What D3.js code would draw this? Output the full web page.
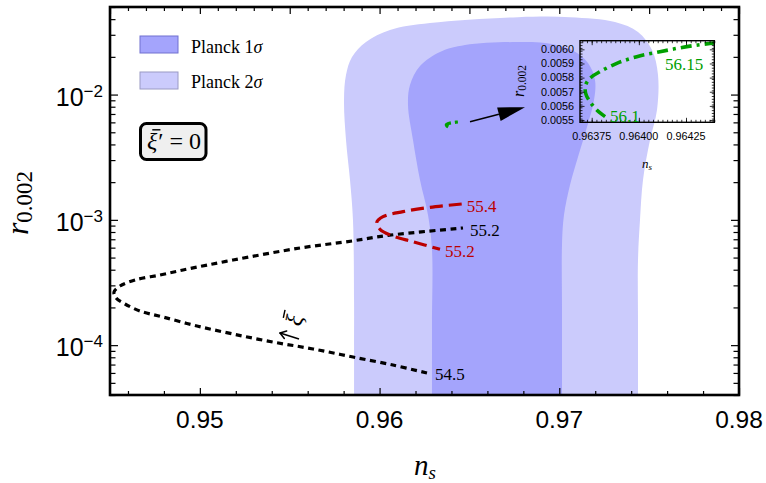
<!DOCTYPE html>
<html><head><meta charset="utf-8">
<script src="https://cdn.jsdelivr.net/npm/d3@7"></script>
<style>body{margin:0;background:#fff} svg{display:block}</style>
</head><body>
<svg id="c" width="766" height="483"></svg>
<script>
// ---------------- data ----------------
const nsDomain = [0.945, 0.98];
const rDomain = [4e-5, 0.05];
const xMajorTicks = [0.95, 0.96, 0.97, 0.98];
const yMajorTicks = [1e-4, 1e-3, 1e-2];
const yTickLabels = ["10", "10", "10"];
const yTickExponents = ["\u22124", "\u22123", "\u22122"];

// Planck contours [n_s, r] (open outline, closed along the bottom below the axis)
const planck2Sigma = [[0.95858,2e-5],[0.95858,5e-5],[0.95858,1e-4],[0.95858,2.29e-4],[0.95852,9.97e-4],[0.958355,2.08e-3],[0.958132,4.34e-3],[0.958021,9.05e-3],[0.958132,0.01433],[0.958466,0.01995],[0.959245,0.02628],[0.96058,0.03277],[0.962806,0.03725],[0.9677,0.0415],[0.9706,0.0415],[0.9731,0.03795],[0.97438,0.03158],[0.975159,0.02268],[0.975493,0.01433],[0.975437,7.53e-3],[0.975048,4.34e-3],[0.974658,2.08e-3],[0.974491,9.97e-4],[0.97438,4.78e-4],[0.97438,1.5e-4],[0.97438,6e-5],[0.97438,2e-5]];
const planck1Sigma = [[0.962917,2e-5],[0.962917,6e-5],[0.962917,1.5e-4],[0.962917,5.75e-4],[0.962695,1.094e-3],[0.96225,2.08e-3],[0.96186,4.34e-3],[0.961582,8.25e-3],[0.961693,0.01192],[0.96225,0.0169],[0.963363,0.02187],[0.964754,0.02486],[0.9677,0.02628],[0.969205,0.02579],[0.970708,0.02268],[0.971598,0.01786],[0.971987,0.01307],[0.971932,9.05e-3],[0.971542,5.51e-3],[0.971041,3.175e-3],[0.970596,1.897e-3],[0.970262,1.094e-3],[0.970151,6.30e-4],[0.970151,2e-4],[0.970151,6e-5],[0.970151,2e-5]];

// black dotted curve (from 54.5 end to 55.2 end)
const blackNs = [0.962639,0.960747,0.958521,0.956296,0.95407,0.951844,0.949841,0.947949,0.946669,0.945835,0.945334,0.945223,0.945556,0.946391,0.947782,0.949062,0.951844,0.955572,0.958522,0.960413,0.964642];
const blackR  = [5.99e-5,6.94e-5,8.04e-5,9.32e-5,1.059e-4,1.227e-4,1.422e-4,1.677e-4,1.873e-4,2.13e-4,2.378e-4,2.655e-4,2.965e-4,3.311e-4,3.63e-4,3.98e-4,4.78e-4,5.96e-4,6.8e-4,7.5e-4,8.61e-4];

// red dashed curve (from 55.4 end to 55.2 end)
const redNs = [0.96457,0.962806,0.961304,0.960191,0.95984,0.960024,0.960747,0.96186,0.963363];
const redR  = [1.338e-3,1.259e-3,1.162e-3,1.06e-3,9.49e-4,8.41e-4,7.43e-4,6.69e-4,5.82e-4];

// green dash-dot curve (from 56.1 end to 56.15 end)
const greenNs = [0.963821,0.963777,0.963741,0.963718,0.963718,0.963741,0.963794,0.963883,0.963989,0.964112,0.964254,0.964386,0.96448];
const greenR  = [0.005524,0.005571,0.00563,0.005689,0.005748,0.005795,0.005842,0.005901,0.005948,0.005983,0.006019,0.006043,0.006058];

// inset
const insetNsDomain = [0.963688, 0.9644];
const insetRDomain = [0.005484, 0.006061];
const insetXTicks = [0.96375, 0.964, 0.96425];
const insetXTickLabels = ["0.96375", "0.96400", "0.96425"];
const insetYTicks = [0.0055, 0.0056, 0.0057, 0.0058, 0.0059, 0.006];
const insetYTickLabels = ["0.0055", "0.0056", "0.0057", "0.0058", "0.0059", "0.0060"];

// annotation arrow (n_s, r) from -> to
const arrowFrom = [0.965032, 6.07e-3];
const arrowTo = [0.968092, 7.91e-3];
const label5615 = [0.964139, 0.005854];

// ---------------- drawing ----------------
const svg = d3.select("#c");
const L = 110, R = 739, T = 7, B = 395;
const x = d3.scaleLinear().domain(nsDomain).range([L, R]);
const y = d3.scaleLog().domain(rDomain).range([B, T]);

const defs = svg.append("defs");
defs.append("clipPath").attr("id","clipMain").append("rect")
  .attr("x",L).attr("y",T).attr("width",R-L).attr("height",B-T);

const serif = "'Liberation Serif','Times New Roman',serif";
const sans = "'Liberation Sans',Arial,sans-serif";

const gMain = svg.append("g").attr("clip-path","url(#clipMain)");
const outline = d3.line().x(d=>x(d[0])).y(d=>y(d[1])).curve(d3.curveCatmullRom.alpha(0.5));
gMain.append("path").attr("d", outline(planck2Sigma)+"Z").attr("fill","#cbcbfc");
gMain.append("path").attr("d", outline(planck1Sigma)+"Z").attr("fill","#a4a4fc");

const line = d3.line().x(d=>x(d[0])).y(d=>y(d[1])).curve(d3.curveCatmullRom.alpha(0.5));
const zip = (a,b)=>a.map((v,i)=>[v,b[i]]);
const blackPts = zip(blackNs, blackR), redPts = zip(redNs, redR), greenPts = zip(greenNs, greenR);

gMain.append("path").attr("d", line(blackPts)).attr("fill","none")
  .attr("stroke","#000").attr("stroke-width",3.2).attr("stroke-dasharray","6,4.5");
gMain.append("path").attr("d", line(redPts)).attr("fill","none")
  .attr("stroke","#bb0000").attr("stroke-width",3.2).attr("stroke-dasharray","13,6");
gMain.append("path").attr("d", line(greenPts)).attr("fill","none")
  .attr("stroke","#00a000").attr("stroke-width",3.2).attr("stroke-dasharray","8,4,3,4");

// curve labels
function lab(pt, dx, dy, txt, col){
  svg.append("text").attr("x", x(pt[0])+dx).attr("y", y(pt[1])+dy)
    .attr("font-family", serif).attr("font-size", 17).attr("fill", col).text(txt);
}
lab(redPts[0], 5, 8, "55.4", "#bb0000");
lab(redPts[redPts.length-1], 5, 8, "55.2", "#bb0000");
lab(blackPts[blackPts.length-1], 7, 8, "55.2", "#000");
lab(blackPts[0], 8, 7, "54.5", "#000");

// xi with an overbar, drawn at origin of group g
function xiBar(g, fs){
  const t = g.append("text").attr("x",0).attr("y",0).attr("font-family",serif)
    .attr("font-style","italic").attr("font-size",fs).text("\u03BE");
  const w = t.node().getComputedTextLength();
  g.append("line").attr("x1", 0.22*fs).attr("x2", 0.22*fs + 0.34*fs)
    .attr("y1", -0.80*fs).attr("y2", -0.80*fs).attr("stroke","#000").attr("stroke-width", Math.max(1.2, fs*0.06));
  return w;
}

// xi-bar direction annotation
{
  const p = blackPts[4];
  const px = x(p[0]), py = y(p[1]);
  const g = svg.append("g");
  const gx = g.append("g").attr("transform", `translate(${px+28},${py-15}) rotate(-78)`);
  xiBar(gx, 24);
  const ax0 = px+26, ay0 = py-3, ax1 = px+7, ay1 = py-9;
  g.append("line").attr("x1",ax0).attr("y1",ay0).attr("x2",ax1).attr("y2",ay1)
    .attr("stroke","#000").attr("stroke-width",1.5);
  const ang = Math.atan2(ay1-ay0, ax1-ax0);
  const hl = 7;
  [0.6,-0.6].forEach(s=>{
    g.append("line").attr("x1",ax1).attr("y1",ay1)
      .attr("x2",ax1 - hl*Math.cos(ang+s)).attr("y2",ay1 - hl*Math.sin(ang+s))
      .attr("stroke","#000").attr("stroke-width",1.5).attr("stroke-linecap","round");
  });
}

// arrow to inset
{
  const x0 = x(arrowFrom[0]), y0 = y(arrowFrom[1]), x1 = x(arrowTo[0]), y1 = y(arrowTo[1]);
  const ang = Math.atan2(y1-y0, x1-x0);
  const hl = 27, hw = 7;
  const bx = x1 - hl*Math.cos(ang), by = y1 - hl*Math.sin(ang);
  svg.append("line").attr("x1",x0).attr("y1",y0).attr("x2",bx).attr("y2",by)
    .attr("stroke","#000").attr("stroke-width",1.5);
  const pts = [[x1,y1],[bx - hw*Math.sin(ang), by + hw*Math.cos(ang)],[bx + hw*Math.sin(ang), by - hw*Math.cos(ang)]];
  svg.append("path").attr("d", "M"+pts.map(p=>p.join(",")).join("L")+"Z").attr("fill","#000");
}

// legend
svg.append("rect").attr("x",140).attr("y",36).attr("width",38).attr("height",17)
  .attr("fill","#a4a4fc").attr("stroke","#7070d0").attr("stroke-width",1);
svg.append("rect").attr("x",140).attr("y",72).attr("width",38).attr("height",17)
  .attr("fill","#cbcbfc").attr("stroke","#9a9ac4").attr("stroke-width",1);
[["1",52.5],["2",88]].forEach(([n,yy])=>{
  const t = svg.append("text").attr("x",191).attr("y",yy).attr("font-family",serif).attr("font-size",18);
  t.append("tspan").text("Planck "+n);
  t.append("tspan").attr("font-style","italic").text("\u03C3");
});

// xi' = 0 box
svg.append("rect").attr("x",140.5).attr("y",123.5).attr("width",65.5).attr("height",36).attr("rx",6)
  .attr("fill","#efefef").attr("stroke","#000").attr("stroke-width",3);
{
  const g = svg.append("g").attr("transform","translate(147,149)");
  const w = xiBar(g, 24);
  g.append("text").attr("x", w+1).attr("y",0).attr("font-family",serif).attr("font-size",24).text("\u2032 = 0");
}

// frame + ticks
const frame = svg.append("g");
function ticks(axisFn, scale, vals, size, tr){
  frame.append("g").attr("transform", tr)
    .call(axisFn(scale).tickValues(vals).tickSize(size).tickFormat(""))
    .call(g=>g.select(".domain").remove())
    .call(g=>g.selectAll("line").attr("stroke","#000").attr("stroke-width",1.2));
}
const xMinorBottom = d3.range(0.946, 0.9801, 0.002).filter(v=>!xMajorTicks.some(m=>Math.abs(m-v)<1e-6));
const xTop = d3.range(0.945, 0.9801, 0.001);
const xTopMajor = xTop.filter(v=>Math.abs(Math.round(v*200)-v*200)<1e-6);
const xTopMinor = xTop.filter(v=>!xTopMajor.includes(v));
ticks(d3.axisBottom, x, xMajorTicks, -7, `translate(0,${B})`);
ticks(d3.axisBottom, x, xMinorBottom, -4, `translate(0,${B})`);
ticks(d3.axisTop, x, xTopMajor, -7, `translate(0,${T})`);
ticks(d3.axisTop, x, xTopMinor, -4, `translate(0,${T})`);
const yMinor = [];
[-5,-4,-3,-2].forEach(e=>{ for(let k=2;k<=9;k++){ const v=k*Math.pow(10,e); if(v>=rDomain[0]*0.999 && v<=rDomain[1]*1.001) yMinor.push(v);} });
ticks(d3.axisLeft, y, yMajorTicks, -8, `translate(${L},0)`);
ticks(d3.axisLeft, y, yMinor, -5.5, `translate(${L},0)`);
ticks(d3.axisRight, y, yMajorTicks, -8, `translate(${R},0)`);
ticks(d3.axisRight, y, yMinor, -5.5, `translate(${R},0)`);
frame.append("rect").attr("x",L).attr("y",T).attr("width",R-L).attr("height",B-T)
  .attr("fill","none").attr("stroke","#000").attr("stroke-width",2.6);

// tick labels
xMajorTicks.forEach(v=>{
  svg.append("text").attr("x",x(v)).attr("y",428).attr("text-anchor","middle")
    .attr("font-family",sans).attr("font-size",24.5).text(d3.format(".2f")(v));
});
yMajorTicks.forEach((v,i)=>{
  const t = svg.append("text").attr("x",103).attr("y",y(v)+11).attr("text-anchor","end")
    .attr("font-family",sans).attr("font-size",25);
  t.append("tspan").text(yTickLabels[i]);
  t.append("tspan").attr("font-size",17).attr("dy",-9).text(yTickExponents[i]);
});

// axis titles
{
  const t = svg.append("text").attr("x",425).attr("y",475).attr("text-anchor","middle")
    .attr("font-family",serif).attr("font-size",29);
  t.append("tspan").attr("font-style","italic").text("n");
  t.append("tspan").attr("font-style","italic").attr("font-size",19).attr("dy",4).text("s");
}
{
  const t = svg.append("text").attr("transform","translate(28,203) rotate(-90)").attr("text-anchor","middle")
    .attr("font-family",serif).attr("font-size",32);
  t.append("tspan").attr("font-style","italic").text("r");
  t.append("tspan").attr("font-size",23).attr("dy",4).text("0.002");
}

// ---------------- inset ----------------
const IL = 580, IR = 714.3, IT = 40.7, IB = 122.3;
const xi = d3.scaleLinear().domain(insetNsDomain).range([IL, IR]);
const yi = d3.scaleLinear().domain(insetRDomain).range([IB, IT]);
defs.append("clipPath").attr("id","clipInset").append("rect")
  .attr("x",IL).attr("y",IT).attr("width",IR-IL).attr("height",IB-IT);
const lineI = d3.line().x(d=>xi(d[0])).y(d=>yi(d[1])).curve(d3.curveCatmullRom.alpha(0.5));
svg.append("g").attr("clip-path","url(#clipInset)").append("path").attr("d", lineI(greenPts))
  .attr("fill","none").attr("stroke","#00a000").attr("stroke-width",3.6).attr("stroke-dasharray","11,5,3,5");

const gi = svg.append("g");
function iticks(axisFn, scale, vals, size, tr){
  gi.append("g").attr("transform", tr)
    .call(axisFn(scale).tickValues(vals).tickSize(size).tickFormat(""))
    .call(g=>g.select(".domain").remove())
    .call(g=>g.selectAll("line").attr("stroke","#000").attr("stroke-width",0.8));
}
const ixMinor = d3.range(0.963700, 0.9644, 0.000025);
const iyMinor = d3.range(0.00549, 0.00606, 0.00002);
iticks(d3.axisBottom, xi, ixMinor, -2.5, `translate(0,${IB})`);
iticks(d3.axisTop, xi, ixMinor, -2.5, `translate(0,${IT})`);
iticks(d3.axisBottom, xi, insetXTicks, -4.5, `translate(0,${IB})`);
iticks(d3.axisTop, xi, insetXTicks, -4.5, `translate(0,${IT})`);
iticks(d3.axisLeft, yi, iyMinor, -2.5, `translate(${IL},0)`);
iticks(d3.axisRight, yi, iyMinor, -2.5, `translate(${IR},0)`);
iticks(d3.axisLeft, yi, insetYTicks, -4.5, `translate(${IL},0)`);
iticks(d3.axisRight, yi, insetYTicks, -4.5, `translate(${IR},0)`);
gi.append("rect").attr("x",IL).attr("y",IT).attr("width",IR-IL).attr("height",IB-IT)
  .attr("fill","none").attr("stroke","#000").attr("stroke-width",1.4);

insetXTicks.forEach((v,i)=>{
  gi.append("text").attr("x",xi(v)).attr("y",140).attr("text-anchor","middle")
    .attr("font-family",sans).attr("font-size",10.8).text(insetXTickLabels[i]);
});
insetYTicks.forEach((v,i)=>{
  gi.append("text").attr("x",574).attr("y",yi(v)+3.8).attr("text-anchor","end")
    .attr("font-family",sans).attr("font-size",10.8).text(insetYTickLabels[i]);
});
{
  const t = gi.append("text").attr("x",647).attr("y",168).attr("text-anchor","middle")
    .attr("font-family",serif).attr("font-size",13);
  t.append("tspan").attr("font-style","italic").text("n");
  t.append("tspan").attr("font-style","italic").attr("font-size",9).attr("dy",2).text("s");
}
{
  const t = gi.append("text").attr("transform","translate(524,81) rotate(-90)").attr("text-anchor","middle")
    .attr("font-family",serif).attr("font-size",16);
  t.append("tspan").attr("font-style","italic").text("r");
  t.append("tspan").attr("font-size",11.5).attr("dy",2).text("0.002");
}
// inset curve labels
gi.append("text").attr("x",xi(greenPts[0][0])+5).attr("y",yi(greenPts[0][1])+5)
  .attr("font-family",serif).attr("font-size",17).attr("fill","#00a000").text("56.1");
gi.append("text").attr("x",xi(label5615[0])).attr("y",yi(label5615[1]))
  .attr("font-family",serif).attr("font-size",17).attr("fill","#00a000").text("56.15");
</script>
</body></html>
